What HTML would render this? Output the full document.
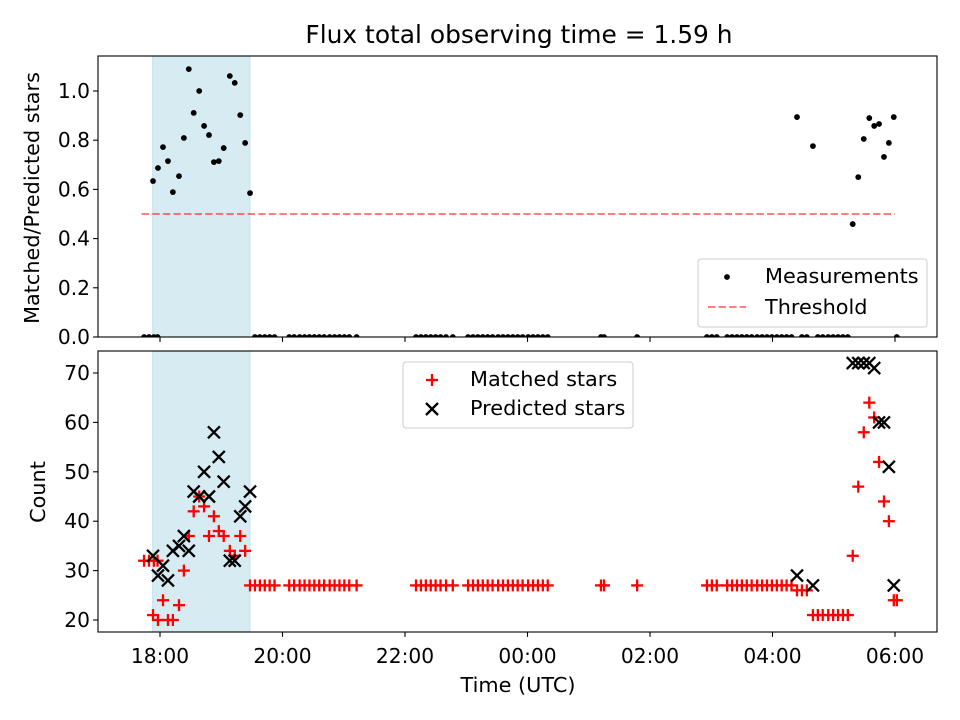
<!DOCTYPE html>
<html><head><meta charset="utf-8"><style>
body{margin:0;background:#fff}
svg{display:block;font-family:"DejaVu Sans","Liberation Sans",sans-serif}
</style></head><body>
<svg id="chart" width="960" height="720" xmlns="http://www.w3.org/2000/svg"></svg>
<script>
// time in hours (24+ = next day)
const ratioTimes=[17.886,17.967,18.049,18.13,18.21,18.31,18.39,18.47,18.55,18.64,18.72,18.80,18.88,18.96,19.04,19.14,19.22,19.31,19.39,19.47,28.40,28.66,29.31,29.40,29.49,29.58,29.66,29.74,29.82,29.90,29.98];
const ratioValues=[0.634,0.687,0.772,0.715,0.589,0.654,0.809,1.089,0.911,1.0,0.858,0.821,0.711,0.715,0.768,1.061,1.033,0.902,0.789,0.585,0.894,0.776,0.459,0.650,0.805,0.890,0.858,0.866,0.732,0.789,0.894];
const matchedValues=[21,20,24,20,20,23,30,37,42,45,43,37,41,38,37,34,33,37,34,27,26,21,33,47,58,64,61,52,44,40,24];
const predictedValues=[33,29,31,28,34,35,37,34,46,45,50,45,58,53,48,32,32,41,43,46,29,27,72,72,72,72,71,60,60,51,27];
const zeroTimes=[17.74,17.82,17.9,17.96,19.55,19.63,19.71,19.79,19.87,20.11,20.19,20.28,20.36,20.44,20.52,20.60,20.68,20.77,20.85,20.93,21.01,21.09,21.21,22.18,22.26,22.34,22.42,22.50,22.58,22.67,22.78,23.03,23.11,23.19,23.27,23.35,23.43,23.52,23.60,23.68,23.76,23.84,23.92,24.01,24.09,24.17,24.25,24.33,25.20,25.25,25.79,26.93,27.01,27.09,27.26,27.34,27.42,27.50,27.58,27.66,27.75,27.83,27.91,27.99,28.07,28.15,28.23,28.31,28.48,28.56,28.74,28.82,28.91,28.99,29.07,29.15,29.23,30.03];
const zeroMatched=[32,32,32,32,27,27,27,27,27,27,27,27,27,27,27,27,27,27,27,27,27,27,27,27,27,27,27,27,27,27,27,27,27,27,27,27,27,27,27,27,27,27,27,27,27,27,27,27,27,27,27,27,27,27,27,27,27,27,27,27,27,27,27,27,27,27,27,27,26,26,21,21,21,21,21,21,21,24];
const xTickValues=[18,20,22,24,26,28,30];
const xTickLabels=["18:00","20:00","22:00","00:00","02:00","04:00","06:00"];
const topYTicks=[0,0.2,0.4,0.6,0.8,1.0];
const botYTicks=[20,30,40,50,60,70];
const shadeStart=17.88, shadeEnd=19.47, threshold=0.5, thrStart=17.7, thrEnd=30.0;

const NS="http://www.w3.org/2000/svg";
const svg=document.getElementById('chart');
function el(tag,attrs,parent){const e=document.createElementNS(NS,tag);for(const k in attrs)e.setAttribute(k,attrs[k]);(parent||svg).appendChild(e);return e;}
const L=98,R=937,T1=56,B1=337,T2=351,B2=632;
const FS='20.2', FL='20.8';
const X=t=>160+(t-18)*61.25;
const Y1=v=>337-v*246;
const Y2=v=>620-(v-20)*4.94;

function clip(id,t,b){const d=el('defs',{});const c=el('clipPath',{id:id},d);el('rect',{x:L,y:t,width:R-L,height:b-t},c);}
clip('c1',T1,B1);clip('c2',T2,B2);

const title=el('text',{x:519,y:43,'text-anchor':'middle','font-size':'24.9'});title.textContent='Flux total observing time = 1.59 h';



// ---- Top panel
const g1=el('g',{'clip-path':'url(#c1)'});


const sh1=el('rect',{x:X(shadeStart),y:T1,width:X(shadeEnd)-X(shadeStart),height:B1-T1,fill:'#add8e6','fill-opacity':0.5,stroke:'#add8e6','stroke-opacity':0.6},g1);


const thr=el('line',{x1:X(thrStart),x2:X(thrEnd),y1:Y1(threshold),y2:Y1(threshold),stroke:'#ff0000','stroke-opacity':0.5,'stroke-width':2,'stroke-dasharray':'7.4,3.2'},g1);


ratioTimes.forEach((t,i)=>{const c=el('circle',{cx:X(t),cy:Y1(ratioValues[i]),r:2.9,fill:'#000'},g1);

});
zeroTimes.forEach(t=>{const c=el('circle',{cx:X(t),cy:Y1(0),r:2.9,fill:'#000'},g1);

});

// ---- Bottom panel
const g2=el('g',{'clip-path':'url(#c2)'});


const sh2=el('rect',{x:X(shadeStart),y:T2,width:X(shadeEnd)-X(shadeStart),height:B2-T2,fill:'#add8e6','fill-opacity':0.5,stroke:'#add8e6','stroke-opacity':0.6},g2);


function plus(x,y,p){const g=el('g',{stroke:'#ff0000','stroke-width':2.3},p);el('line',{x1:x-6,x2:x+6,y1:y,y2:y},g);el('line',{x1:x,x2:x,y1:y-6,y2:y+6},g);

return g;}
function cross(x,y,p){const g=el('g',{stroke:'#000','stroke-width':2.3},p);el('line',{x1:x-6,x2:x+6,y1:y-6,y2:y+6},g);el('line',{x1:x-6,x2:x+6,y1:y+6,y2:y-6},g);

return g;}
ratioTimes.forEach((t,i)=>plus(X(t),Y2(matchedValues[i]),g2));
zeroTimes.forEach((t,i)=>plus(X(t),Y2(zeroMatched[i]),g2));
ratioTimes.forEach((t,i)=>cross(X(t),Y2(predictedValues[i]),g2));

// ---- Axes frames & ticks
function frame(t,b,name){const r=el('rect',{x:L,y:t,width:R-L,height:b-t,fill:'none',stroke:'#000','stroke-width':1.1});

}
frame(T1,B1,'top-axes-frame');frame(T2,B2,'bottom-axes-frame');
xTickValues.forEach((v,i)=>{const x=X(v);
el('line',{x1:x,x2:x,y1:B1,y2:B1+4.9,stroke:'#000','stroke-width':1.1});
el('line',{x1:x,x2:x,y1:B2,y2:B2+4.9,stroke:'#000','stroke-width':1.1});
const tx=el('text',{x:x,y:B2+31,'text-anchor':'middle','font-size':FS});tx.textContent=xTickLabels[i];

});
topYTicks.forEach(v=>{const y=Y1(v);el('line',{x1:L-4.9,x2:L,y1:y,y2:y,stroke:'#000','stroke-width':1.1});
const tx=el('text',{x:L-8,y:y+7,'text-anchor':'end','font-size':FS});tx.textContent=v.toFixed(1);

});
botYTicks.forEach(v=>{const y=Y2(v);el('line',{x1:L-4.9,x2:L,y1:y,y2:y,stroke:'#000','stroke-width':1.1});
const tx=el('text',{x:L-8,y:y+7,'text-anchor':'end','font-size':FS});tx.textContent=v;

});
const yl1=el('text',{transform:'translate(39,198) rotate(-90)','text-anchor':'middle','font-size':FL});yl1.textContent='Matched/Predicted stars';


const yl2=el('text',{transform:'translate(45,492) rotate(-90)','text-anchor':'middle','font-size':FL});yl2.textContent='Count';


const xl=el('text',{x:518,y:692,'text-anchor':'middle','font-size':FL});xl.textContent='Time (UTC)';



// ---- Legends
const lg1=el('g',{});


el('rect',{x:698,y:259,width:229,height:68,rx:3,fill:'#fff','fill-opacity':0.8,stroke:'#ccc'},lg1);
el('circle',{cx:727,cy:277,r:2.9,fill:'#000'},lg1);
let t=el('text',{x:765,y:283,'font-size':FL},lg1);t.textContent='Measurements';
el('line',{x1:708,x2:746,y1:307,y2:307,stroke:'#ff0000','stroke-opacity':0.5,'stroke-width':2,'stroke-dasharray':'7.4,3.2'},lg1);
t=el('text',{x:765,y:314,'font-size':FL},lg1);t.textContent='Threshold';
const lg2=el('g',{});


el('rect',{x:403,y:362,width:230,height:66,rx:3,fill:'#fff','fill-opacity':0.8,stroke:'#ccc'},lg2);
plus(432,380,lg2);
t=el('text',{x:470,y:386,'font-size':FL},lg2);t.textContent='Matched stars';
cross(432,409,lg2);
t=el('text',{x:470,y:415,'font-size':FL},lg2);t.textContent='Predicted stars';
</script>
</body></html>
